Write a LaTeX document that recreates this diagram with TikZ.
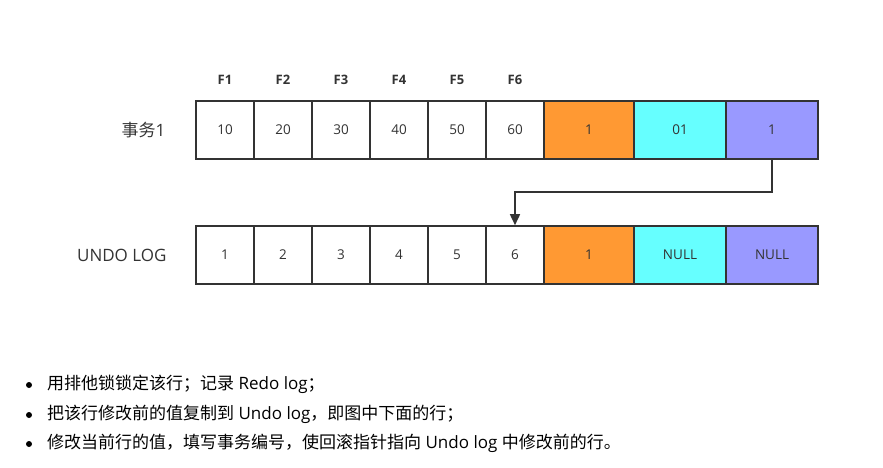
\documentclass[tikz,border=0pt]{standalone}
\usepackage{fontspec}
\setmainfont{Open Sans}
\newfontfamily\cjk{Noto Sans CJK SC}
\usetikzlibrary{arrows.meta}
\definecolor{bdr}{HTML}{333333}
\definecolor{txt}{HTML}{333333}
\definecolor{corange}{HTML}{FF9933}
\definecolor{ccyan}{HTML}{66FFFF}
\definecolor{cpurple}{HTML}{9999FF}
\tikzset{
  cell/.style={draw=bdr, line width=1.6pt, minimum height=58pt, inner sep=0pt, text=txt, font=\fontsize{13.5}{15}\selectfont},
  wcell/.style={cell, fill=white, minimum width=58pt},
  flabel/.style={text=txt, font=\fontsize{13}{15}\selectfont\bfseries},
  rowlabel/.style={text=txt, font=\fontsize{17}{20}\selectfont, anchor=east},
  bline/.style={anchor=west, text=black, font=\fontsize{17}{20}\selectfont, inner sep=0pt},
  bdot/.style={circle, fill=black, inner sep=0pt, minimum size=6pt}
}
\begin{document}
\begin{tikzpicture}[x=1pt,y=-1pt]
\useasboundingbox (0,0) rectangle (883,467);
% top row
\node[wcell] (t1) at (225,130) {10};
\node[wcell] (t2) at (283,130) {20};
\node[wcell] (t3) at (341,130) {30};
\node[wcell] (t4) at (399,130) {40};
\node[wcell] (t5) at (457,130) {50};
\node[wcell] (t6) at (515,130) {60};
\node[cell, fill=corange, minimum width=90pt] (t7) at (589,130) {1};
\node[cell, fill=ccyan, minimum width=92pt] (t8) at (680,130) {01};
\node[cell, fill=cpurple, minimum width=92pt] (t9) at (772,130) {1};
% bottom row
\node[wcell] (b1) at (225,255) {1};
\node[wcell] (b2) at (283,255) {2};
\node[wcell] (b3) at (341,255) {3};
\node[wcell] (b4) at (399,255) {4};
\node[wcell] (b5) at (457,255) {5};
\node[wcell] (b6) at (515,255) {6};
\node[cell, fill=corange, minimum width=90pt] (b7) at (589,255) {1};
\node[cell, fill=ccyan, minimum width=92pt] (b8) at (680,255) {NULL};
\node[cell, fill=cpurple, minimum width=92pt] (b9) at (772,255) {NULL};
% field labels
\node[flabel] (f1) at (225,80) {F1};
\node[flabel] (f2) at (283,80) {F2};
\node[flabel] (f3) at (341,80) {F3};
\node[flabel] (f4) at (399,80) {F4};
\node[flabel] (f5) at (457,80) {F5};
\node[flabel] (f6) at (515,80) {F6};
% row labels
\node[rowlabel] (r1) at (169,130) {{\cjk 事务}1};
\node[rowlabel] (r2) at (170,255) {UNDO LOG};
% arrow
\coordinate (k) at (0,192);
\draw[bdr, line width=1.6pt, -{Triangle[length=11pt,width=10pt]}] (t9.south) -- (t9.south |- k) -| (b6.north);
% bullets
\node[bdot] (d1) at (29,385) {};
\node[bdot] (d2) at (29,415) {};
\node[bdot] (d3) at (29,444) {};
\node[bline] (l1) at (47,384) {{\cjk 用排他锁锁定该行；记录} Redo log{\cjk ；}};
\node[bline] (l2) at (47,414) {{\cjk 把该行修改前的值复制到} Undo log{\cjk ，即图中下面的行；}};
\node[bline] (l3) at (47,443) {{\cjk 修改当前行的值，填写事务编号，使回滚指针指向} Undo log {\cjk 中修改前的行。}};
\end{tikzpicture}
\end{document}
